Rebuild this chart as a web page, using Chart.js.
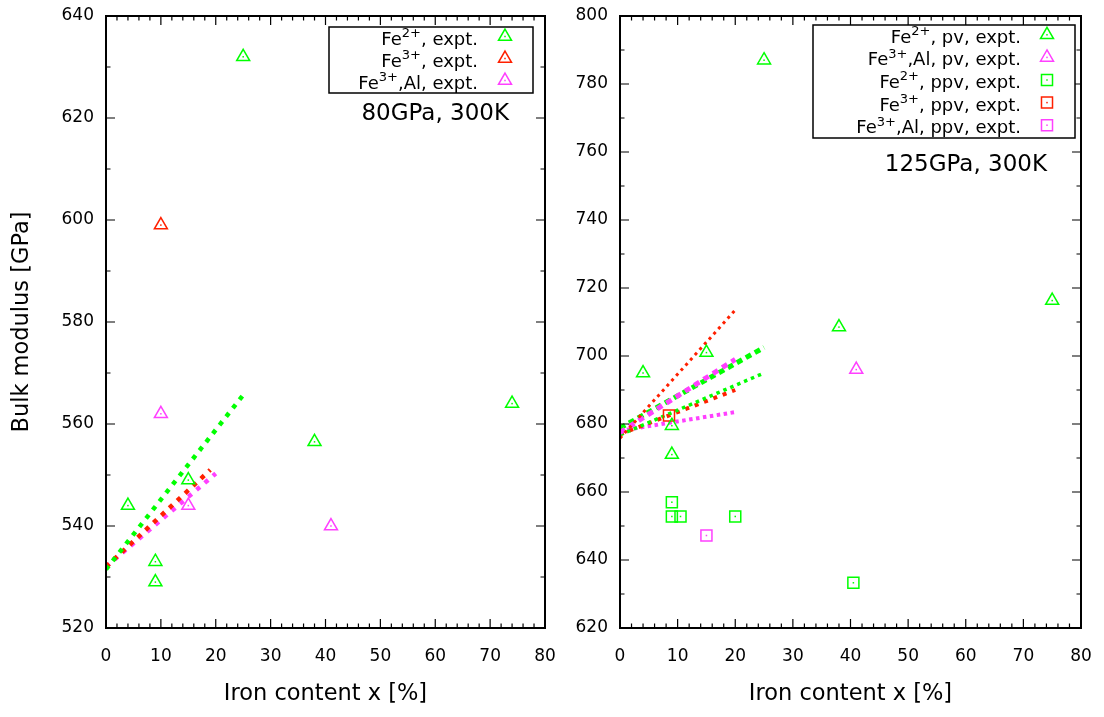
<!DOCTYPE html>
<html>
<head>
<meta charset="utf-8">
<script src="https://cdn.jsdelivr.net/npm/chart.js@4.4.0/dist/chart.umd.min.js"></script>
<style>
  html, body { margin: 0; padding: 0; background: #fff; }
  #left { position: absolute; left: 0; top: 0; }
  #right { position: absolute; left: 560px; top: 0; }
</style>
</head>
<body>
<canvas id="left" width="560" height="717"></canvas>
<canvas id="right" width="544" height="717"></canvas>
<script>
// 80 GPa, 300 K  (left panel)
const fe2X_80 = [25, 4, 9, 9, 15, 38, 74];
const fe2Y_80 = [632, 544, 533, 529, 549, 556.5, 564];
const fe3X_80 = [10];
const fe3Y_80 = [599];
const fe3AlX_80 = [10, 15, 41];
const fe3AlY_80 = [562, 544, 540];
// fit lines, left panel
const fitFe2X_80 = [0, 25], fitFe2Y_80 = [531.5, 565.7];
const fitFe3X_80 = [0, 19], fitFe3Y_80 = [532, 551];
const fitFe3AlX_80 = [0, 20], fitFe3AlY_80 = [532, 550.3];

// 125 GPa, 300 K  (right panel)
const pvFe2X = [25, 4, 15, 9, 9, 38, 75];
const pvFe2Y = [787, 695, 701, 679.5, 671, 708.5, 716.3];
const pvFe3AlX = [41];
const pvFe3AlY = [696];
const ppvFe2X = [9, 9, 10.5, 20, 40.5];
const ppvFe2Y = [657, 652.8, 652.8, 652.8, 633.3];
const ppvFe3X = [8.5];
const ppvFe3Y = [682.5];
const ppvFe3AlX = [15];
const ppvFe3AlY = [647.2];
// fit lines, right panel
const fitPvFe3X = [0, 20], fitPvFe3Y = [675.8, 713.5];
const fitPvFe3AlX = [0, 20], fitPvFe3AlY = [677.5, 699];
const fitPvFe2X = [0, 25], fitPvFe2Y = [678.8, 702.5];
const fitPpvFe2X = [0, 25], fitPpvFe2Y = [676.8, 695];
const fitPpvFe3X = [0, 20], fitPpvFe3Y = [677, 690];
const fitPpvFe3AlX = [0, 20], fitPpvFe3AlY = [678, 683.5];

const xTicks = [0, 10, 20, 30, 40, 50, 60, 70, 80];
const yTicksLeft = [520, 540, 560, 580, 600, 620, 640];
const yTicksRight = [620, 640, 660, 680, 700, 720, 740, 760, 780, 800];

const GREEN = '#00ff00', RED = '#ff2000', MAGENTA = '#ff40ff';
const FONT = '"DejaVu Sans", sans-serif';

function pts(xs, ys) {
  return xs.map((x, i) => ({ x: x, y: ys[i] }));
}

function markers(label, xs, ys, color, style) {
  return {
    label: label, data: pts(xs, ys), showLine: false, pointStyle: style,
    pointRadius: style === 'rect' ? 7.8 : 7.5, pointBorderWidth: 1.5,
    pointBorderColor: color, pointBackgroundColor: 'rgba(0,0,0,0)',
    borderColor: color, order: 0
  };
}

function fitLine(xs, ys, color, width, dash) {
  return {
    data: pts(xs, ys), showLine: true, borderColor: color, borderWidth: width,
    borderDash: dash, borderCapStyle: 'butt', pointRadius: 0, fill: false, order: 1
  };
}

// label text with ^{...} superscripts, right aligned
function drawRich(ctx, text, xRight, y, size) {
  const parts = text.split(/\^\{([^}]*)\}/);
  const normal = size + 'px ' + FONT;
  const sup = Math.round(size * 0.7) + 'px ' + FONT;
  let w = 0;
  parts.forEach((p, i) => { ctx.font = i % 2 ? sup : normal; w += ctx.measureText(p).width; });
  let x = xRight - w;
  ctx.textAlign = 'left';
  ctx.textBaseline = 'alphabetic';
  parts.forEach((p, i) => {
    ctx.font = i % 2 ? sup : normal;
    ctx.fillText(p, x, i % 2 ? y - size * 0.42 : y);
    x += ctx.measureText(p).width;
  });
}

function drawMarker(ctx, style, x, y, r) {
  ctx.beginPath();
  if (style === 'rect') {
    const s = r * Math.SQRT1_2;
    ctx.rect(x - s, y - s, 2 * s, 2 * s);
  } else {
    for (let k = 0; k < 3; k++) {
      const a = k * 2 * Math.PI / 3;
      const px = x + Math.sin(a) * r, py = y - Math.cos(a) * r;
      k ? ctx.lineTo(px, py) : ctx.moveTo(px, py);
    }
    ctx.closePath();
  }
  ctx.stroke();
  ctx.fillRect(x - 0.75, y - 0.75, 1.5, 1.5);
}

// gnuplot-like frame with inward ticks on all four sides
const frameTicks = {
  id: 'frameTicks',
  afterDraw(chart, args, opts) {
    const { ctx, chartArea: a, scales: { x, y } } = chart;
    ctx.save();
    ctx.strokeStyle = '#000';
    ctx.lineWidth = 1.2;
    ctx.beginPath();
    for (let v = x.min; v <= x.max + 1e-9; v += opts.xMinor) {
      const px = x.getPixelForValue(v);
      const len = Math.abs(v % opts.xMajor) < 1e-6 ? 9 : 4.5;
      ctx.moveTo(px, a.bottom); ctx.lineTo(px, a.bottom - len);
      ctx.moveTo(px, a.top); ctx.lineTo(px, a.top + len);
    }
    for (let v = y.min; v <= y.max + 1e-9; v += opts.yMinor) {
      const py = y.getPixelForValue(v);
      const len = Math.abs(v % opts.yMajor) < 1e-6 ? 9 : 4.5;
      ctx.moveTo(a.left, py); ctx.lineTo(a.left + len, py);
      ctx.moveTo(a.right, py); ctx.lineTo(a.right - len, py);
    }
    ctx.stroke();
    ctx.lineWidth = 2;
    ctx.strokeRect(a.left, a.top, a.right - a.left, a.bottom - a.top);
    ctx.restore();
  }
};

// small centre dot in each marker
const centerDots = {
  id: 'centerDots',
  afterDatasetsDraw(chart) {
    const ctx = chart.ctx;
    chart.data.datasets.forEach((d, i) => {
      if (d.showLine) return;
      ctx.fillStyle = d.pointBorderColor;
      chart.getDatasetMeta(i).data.forEach(p => ctx.fillRect(p.x - 0.75, p.y - 0.75, 1.5, 1.5));
    });
  }
};

// boxed key, text first then sample, plus the condition note
const gpLegend = {
  id: 'gpLegend',
  afterDraw(chart, args, o) {
    const { ctx, chartArea: a } = chart;
    const items = chart.data.datasets.filter(d => d.label);
    const right = a.right - o.offsetRight, top = a.top + o.offsetTop;
    const h = items.length * o.rowH + 2 * o.padY;
    ctx.save();
    ctx.fillStyle = '#fff';
    ctx.fillRect(right - o.width, top, o.width, h);
    ctx.strokeStyle = '#000';
    ctx.lineWidth = 1.5;
    ctx.strokeRect(right - o.width, top, o.width, h);
    items.forEach((d, i) => {
      const cy = top + o.padY + o.rowH * (i + 0.5);
      ctx.fillStyle = '#000';
      drawRich(ctx, d.label, right - o.textGap, cy + 6.5, 18);
      ctx.strokeStyle = d.pointBorderColor;
      ctx.fillStyle = d.pointBorderColor;
      ctx.lineWidth = 1.5;
      drawMarker(ctx, d.pointStyle, right - o.markerGap, cy - 1.5, d.pointRadius);
    });
    ctx.fillStyle = '#000';
    ctx.font = '23px ' + FONT;
    ctx.textAlign = 'right';
    ctx.textBaseline = 'middle';
    ctx.fillText(o.note, a.right - o.noteRight, a.top + o.noteY);
    ctx.restore();
  }
};

function makeOptions(yMin, yMax, yTicks, yWidth, padRight, yTitle, legendOpts) {
  return {
    responsive: false,
    animation: false,
    events: [],
    layout: { padding: { top: 16, right: padRight, bottom: 0, left: 0 } },
    scales: {
      x: {
        type: 'linear', min: 0, max: 80,
        afterFit: s => { s.height = 89; s.paddingLeft = 0; s.paddingRight = 0; },
        afterBuildTicks: s => { s.ticks = xTicks.map(v => ({ value: v })); },
        grid: { display: false, drawTicks: false },
        border: { display: false },
        ticks: { padding: 18, color: '#000', font: { size: 17, family: FONT } },
        title: { display: true, text: 'Iron content x [%]', color: '#000',
          padding: { top: 0, bottom: 9 }, font: { size: 22.5, family: FONT } }
      },
      y: {
        type: 'linear', min: yMin, max: yMax,
        afterFit: s => { s.width = yWidth; s.paddingTop = 0; s.paddingBottom = 0; },
        afterBuildTicks: s => { s.ticks = yTicks.map(v => ({ value: v })); },
        grid: { display: false, drawTicks: false },
        border: { display: false },
        ticks: { padding: 12, color: '#000', font: { size: 17, family: FONT } },
        title: { display: !!yTitle, text: yTitle, color: '#000',
          padding: { top: 9, bottom: 0 }, font: { size: 22.5, family: FONT } }
      }
    },
    plugins: {
      legend: { display: false },
      tooltip: { enabled: false },
      frameTicks: { xMinor: 2, xMajor: 10, yMinor: 10, yMajor: 20 },
      gpLegend: legendOpts
    }
  };
}

new Chart(document.getElementById('left'), {
  type: 'scatter',
  data: {
    datasets: [
      markers('Fe^{2+}, expt.', fe2X_80, fe2Y_80, GREEN, 'triangle'),
      markers('Fe^{3+}, expt.', fe3X_80, fe3Y_80, RED, 'triangle'),
      markers('Fe^{3+},Al, expt.', fe3AlX_80, fe3AlY_80, MAGENTA, 'triangle'),
      fitLine(fitFe2X_80, fitFe2Y_80, GREEN, 4.5, [4.5, 6.3]),
      fitLine(fitFe3X_80, fitFe3Y_80, RED, 4.5, [4.5, 6.3]),
      fitLine(fitFe3AlX_80, fitFe3AlY_80, MAGENTA, 4.5, [4.5, 6.3])
    ]
  },
  options: makeOptions(520, 640, yTicksLeft, 106, 15, 'Bulk modulus [GPa]', {
    offsetRight: 12, offsetTop: 11, width: 204, rowH: 22, padY: 0,
    textGap: 55, markerGap: 28, note: '80GPa, 300K', noteRight: 36, noteY: 98
  }),
  plugins: [centerDots, frameTicks, gpLegend]
});

new Chart(document.getElementById('right'), {
  type: 'scatter',
  data: {
    datasets: [
      markers('Fe^{2+}, pv, expt.', pvFe2X, pvFe2Y, GREEN, 'triangle'),
      markers('Fe^{3+},Al, pv, expt.', pvFe3AlX, pvFe3AlY, MAGENTA, 'triangle'),
      markers('Fe^{2+}, ppv, expt.', ppvFe2X, ppvFe2Y, GREEN, 'rect'),
      markers('Fe^{3+}, ppv, expt.', ppvFe3X, ppvFe3Y, RED, 'rect'),
      markers('Fe^{3+},Al, ppv, expt.', ppvFe3AlX, ppvFe3AlY, MAGENTA, 'rect'),
      fitLine(fitPvFe3X, fitPvFe3Y, RED, 3, [3, 4]),
      fitLine(fitPvFe3AlX, fitPvFe3AlY, MAGENTA, 5, [6, 5]),
      fitLine(fitPvFe2X, fitPvFe2Y, GREEN, 5, [6, 4.3]),
      fitLine(fitPpvFe2X, fitPpvFe2Y, GREEN, 3.5, [3.5, 4]),
      fitLine(fitPpvFe3X, fitPpvFe3Y, RED, 4, [4, 6]),
      fitLine(fitPpvFe3AlX, fitPpvFe3AlY, MAGENTA, 4, [3.5, 3.5])
    ]
  },
  options: makeOptions(620, 800, yTicksRight, 60, 23, '', {
    offsetRight: 6, offsetTop: 9, width: 262, rowH: 22.6, padY: 0,
    textGap: 54, markerGap: 28, note: '125GPa, 300K', noteRight: 34, noteY: 149
  }),
  plugins: [centerDots, frameTicks, gpLegend]
});
</script>
</body>
</html>
